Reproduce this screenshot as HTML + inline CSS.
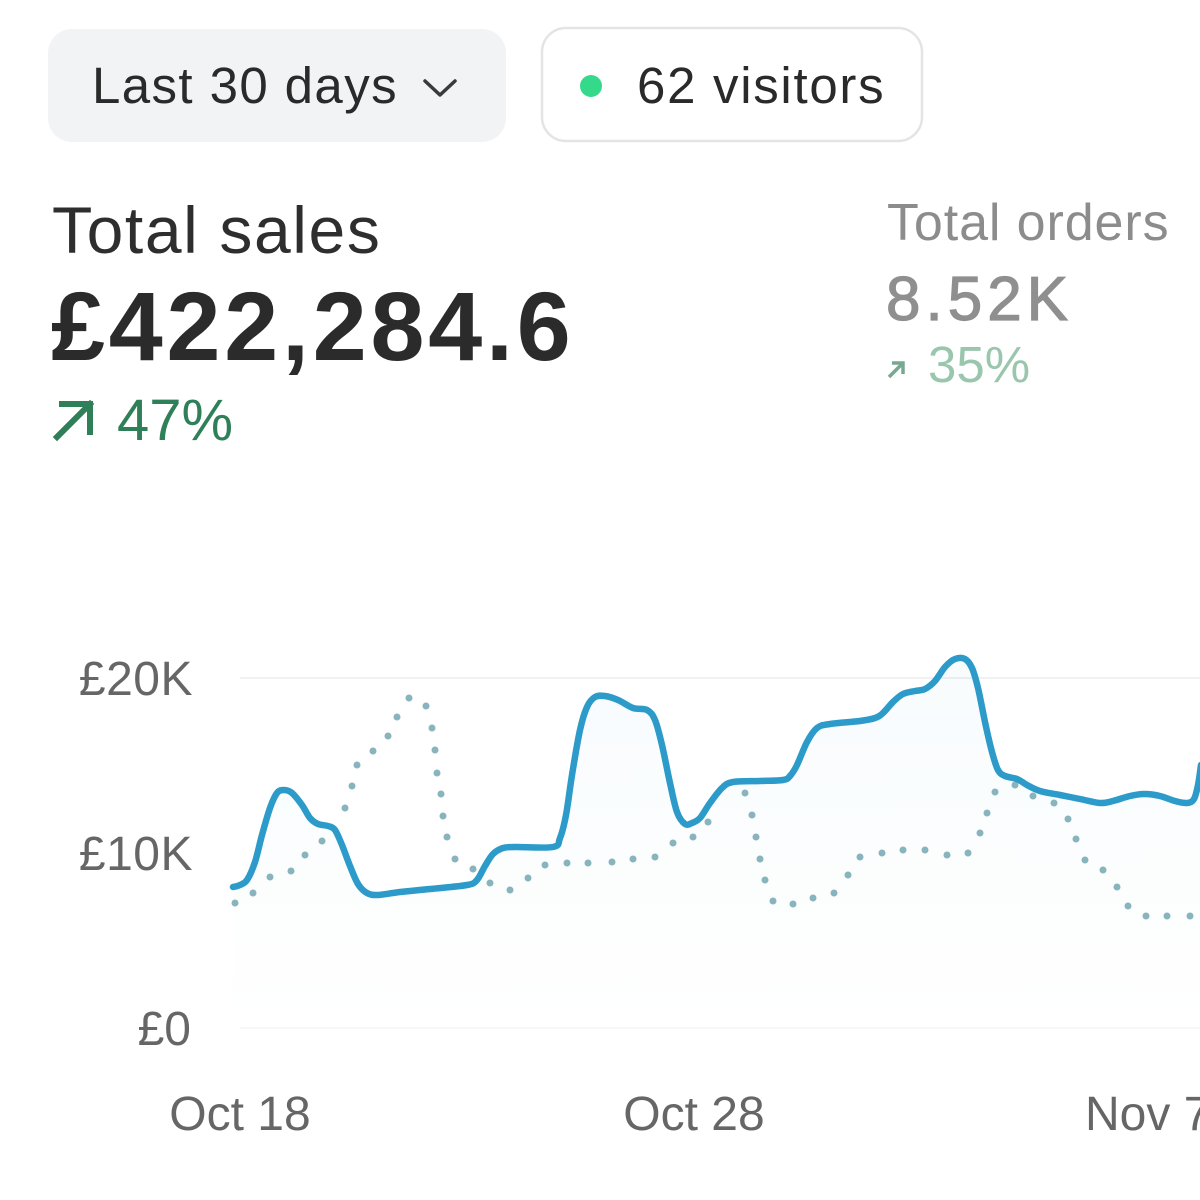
<!DOCTYPE html>
<html>
<head>
<meta charset="utf-8">
<style>
html,body{margin:0;padding:0;background:#fff;}
body{width:1200px;height:1200px;overflow:hidden;position:relative;font-family:"Liberation Sans",Arial,sans-serif;}
svg{position:absolute;left:0;top:0;}
</style>
</head>
<body>
<svg width="1200" height="1200" viewBox="0 0 1200 1200" xmlns="http://www.w3.org/2000/svg">
  <defs>
    <linearGradient id="fg" x1="0" y1="0" x2="0" y2="1">
      <stop offset="0" stop-color="#2d9cca" stop-opacity="0.035"/>
      <stop offset="1" stop-color="#2d9cca" stop-opacity="0"/>
    </linearGradient>
  </defs>
  <!-- Buttons -->
  <rect x="48" y="29" width="458" height="113" rx="24" ry="24" fill="#f2f3f5"/>
  <text x="92" y="103" font-family="Liberation Sans, sans-serif" font-size="51" fill="#2a2a2a" letter-spacing="1.4">Last 30 days</text>
  <polyline points="425,81 440,95 455,81" fill="none" stroke="#3a3a3a" stroke-width="3.5" stroke-linecap="round" stroke-linejoin="round"/>

  <rect x="542" y="28" width="380" height="113" rx="24" ry="24" fill="#fff" stroke="#e4e4e4" stroke-width="2.5"/>
  <circle cx="591" cy="86" r="11" fill="#35d98a"/>
  <text x="637" y="103" font-family="Liberation Sans, sans-serif" font-size="51" fill="#2a2a2a" letter-spacing="1.7">62 visitors</text>

  <!-- Total sales -->
  <text x="52" y="253" font-family="Liberation Sans, sans-serif" font-size="66" fill="#2e2e2e" letter-spacing="1.6">Total sales</text>
  <text x="51" y="360" font-family="Liberation Sans, sans-serif" font-size="97" font-weight="bold" fill="#2b2b2b" letter-spacing="3.8">£422,284.6</text>
  <g stroke="#2f7f58" stroke-width="6" fill="none" stroke-linecap="square">
    <line x1="57" y1="437" x2="90" y2="404"/>
    <polyline points="62,404 90,404 90,432" stroke-linejoin="miter"/>
  </g>
  <text x="117" y="440" font-family="Liberation Sans, sans-serif" font-size="58" fill="#2f7f58">47%</text>

  <!-- Total orders -->
  <text x="887" y="240" font-family="Liberation Sans, sans-serif" font-size="52" fill="#8c8c8c" letter-spacing="0.9">Total orders</text>
  <text x="886" y="320" font-family="Liberation Sans, sans-serif" font-size="62" fill="#8f8f8f" stroke="#8f8f8f" stroke-width="1.2" letter-spacing="5">8.52K</text>
  <g stroke="#79a892" stroke-width="3.5" fill="none">
    <line x1="889" y1="377" x2="903" y2="363"/>
    <polyline points="892,363 903,363 903,374"/>
  </g>
  <text x="928" y="382" font-family="Liberation Sans, sans-serif" font-size="51" fill="#9ac6ae">35%</text>

  <!-- grid -->
  <line x1="240" y1="678" x2="1200" y2="678" stroke="#f1f1f1" stroke-width="2"/>
  <line x1="240" y1="1028" x2="1200" y2="1028" stroke="#f8f8f8" stroke-width="2"/>

  <!-- y labels -->
  <g font-family="Liberation Sans, sans-serif" font-size="48" fill="#666" text-anchor="end">
    <text x="193" y="695" letter-spacing="0.5">£20K</text>
    <text x="193" y="870" letter-spacing="0.5">£10K</text>
    <text x="191" y="1045">£0</text>
  </g>
  <!-- x labels -->
  <g font-family="Liberation Sans, sans-serif" font-size="48" fill="#666">
    <text x="240" y="1130" text-anchor="middle">Oct 18</text>
    <text x="694" y="1130" text-anchor="middle">Oct 28</text>
    <text x="1085" y="1130">Nov 7</text>
  </g>

  <!-- area fill under solid line -->
  <path id="area" fill="url(#fg)" d=""/>

  <!-- dotted series -->
  <g fill="#88b4bd">
    <circle cx="235" cy="903" r="3.5"/><circle cx="253" cy="893" r="3.5"/><circle cx="270" cy="877" r="3.5"/>
    <circle cx="291" cy="871" r="3.5"/><circle cx="305" cy="855" r="3.5"/><circle cx="322" cy="841" r="3.5"/>
    <circle cx="345" cy="808" r="3.5"/><circle cx="352" cy="786" r="3.5"/><circle cx="357" cy="765" r="3.5"/>
    <circle cx="373" cy="751" r="3.5"/><circle cx="388" cy="736" r="3.5"/><circle cx="397" cy="717" r="3.5"/>
    <circle cx="409" cy="698" r="3.5"/><circle cx="426" cy="706" r="3.5"/><circle cx="432" cy="728" r="3.5"/>
    <circle cx="435" cy="750" r="3.5"/><circle cx="437" cy="773" r="3.5"/><circle cx="441" cy="794" r="3.5"/>
    <circle cx="443" cy="816" r="3.5"/><circle cx="447" cy="837" r="3.5"/><circle cx="455" cy="859" r="3.5"/>
    <circle cx="473" cy="869" r="3.5"/><circle cx="490" cy="883" r="3.5"/><circle cx="510" cy="890" r="3.5"/>
    <circle cx="528" cy="878" r="3.5"/><circle cx="545" cy="865" r="3.5"/><circle cx="567" cy="863" r="3.5"/>
    <circle cx="588" cy="863" r="3.5"/><circle cx="612" cy="862" r="3.5"/><circle cx="633" cy="859" r="3.5"/>
    <circle cx="655" cy="857" r="3.5"/><circle cx="673" cy="843" r="3.5"/><circle cx="693" cy="837" r="3.5"/>
    <circle cx="708" cy="822" r="3.5"/><circle cx="745" cy="793" r="3.5"/><circle cx="752" cy="815" r="3.5"/>
    <circle cx="756" cy="837" r="3.5"/><circle cx="760" cy="859" r="3.5"/><circle cx="765" cy="880" r="3.5"/>
    <circle cx="773" cy="901" r="3.5"/><circle cx="793" cy="904" r="3.5"/><circle cx="813" cy="898" r="3.5"/>
    <circle cx="834" cy="893" r="3.5"/><circle cx="848" cy="875" r="3.5"/><circle cx="860" cy="857" r="3.5"/>
    <circle cx="882" cy="853" r="3.5"/><circle cx="903" cy="850" r="3.5"/><circle cx="925" cy="850" r="3.5"/>
    <circle cx="947" cy="855" r="3.5"/><circle cx="968" cy="853" r="3.5"/><circle cx="980" cy="833" r="3.5"/>
    <circle cx="987" cy="813" r="3.5"/><circle cx="995" cy="792" r="3.5"/><circle cx="1015" cy="785" r="3.5"/>
    <circle cx="1033" cy="796" r="3.5"/><circle cx="1054" cy="803" r="3.5"/><circle cx="1068" cy="819" r="3.5"/>
    <circle cx="1076" cy="839" r="3.5"/><circle cx="1085" cy="860" r="3.5"/><circle cx="1103" cy="870" r="3.5"/>
    <circle cx="1117" cy="887" r="3.5"/><circle cx="1128" cy="906" r="3.5"/><circle cx="1146" cy="916" r="3.5"/>
    <circle cx="1167" cy="916" r="3.5"/><circle cx="1190" cy="916" r="3.5"/>
  </g>

  <!-- solid series -->
  <polyline id="solidPoly" fill="none" stroke="#2c9bc9" stroke-width="6.5" stroke-linejoin="round" stroke-linecap="round" points="233,887 240,885 247,880 255,862 262,835 270,808 277,793 284,790 292,793 302,805 310,818 318,824 328,826 335,830 342,845 350,866 358,884 367,893 378,895 400,892 430,889 467,885 477,880 485,866 493,854 503,848 515,847 553,847 560,838 566,815 572,775 580,730 587,707 595,697 605,696 618,700 633,708 647,710 655,720 662,745 670,783 677,812 685,824 692,823 700,818 710,803 722,788 733,782 760,781 783,780 790,776 797,765 807,742 817,728 830,724 860,721 875,718 883,713 893,702 903,694 915,691 925,689 935,681 945,667 955,659 965,659 972,668 978,688 985,722 992,752 998,770 1005,776 1017,779 1027,785 1040,791 1060,795 1080,799 1100,803 1113,801 1130,796 1145,794 1160,796 1175,801 1187,803 1194,799 1198,785 1201,765"/>
  <path id="solidPath" fill="none" stroke="#2c9bc9" stroke-width="6.5" stroke-linejoin="round" stroke-linecap="round" d=""/>
</svg>
<script>
(function(){
  var poly=document.getElementById('solidPoly');
  var raw=poly.getAttribute('points').trim().split(/\s+/).map(function(s){var a=s.split(',');return [+a[0],+a[1]];});
  var d='M'+raw[0][0]+','+raw[0][1];
  for(var i=0;i<raw.length-1;i++){
    var p0=raw[i-1]||raw[i],p1=raw[i],p2=raw[i+1],p3=raw[i+2]||p2;
    var t=0.5/3*1.0;
    var c1x=p1[0]+(p2[0]-p0[0])*t,c1y=p1[1]+(p2[1]-p0[1])*t;
    var c2x=p2[0]-(p3[0]-p1[0])*t,c2y=p2[1]-(p3[1]-p1[1])*t;
    d+=' C'+c1x.toFixed(1)+','+c1y.toFixed(1)+' '+c2x.toFixed(1)+','+c2y.toFixed(1)+' '+p2[0]+','+p2[1];
  }
  document.getElementById('solidPath').setAttribute('d',d);
  var last=raw[raw.length-1];
  document.getElementById('area').setAttribute('d',d+' L'+last[0]+',1028 L'+raw[0][0]+',1028 Z');
  poly.style.display='none';
})();
</script>
</body>
</html>
